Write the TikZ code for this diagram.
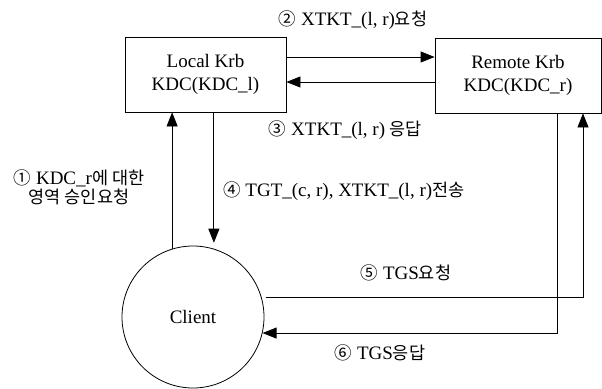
\documentclass[tikz,border=0pt]{standalone}
\usepackage{fontspec}
\setmainfont{Liberation Serif}
\newfontfamily\cjk[Scale=0.92]{Noto Sans CJK KR}
\newcommand{\kr}[1]{{\cjk #1}}
\usetikzlibrary{arrows.meta}
\tikzset{
    Box/.style = {draw,thick,minimum height=75pt,align=center,
                  font=\fontsize{19}{23}\selectfont},
    Msg/.style = {align=center,inner sep=0pt,
                  font=\fontsize{19}{19}\selectfont},
    Flow/.style = {thick,-{Triangle[length=14pt,width=11pt]}}
}
\begin{document}
\begin{tikzpicture}[x=1pt,y=-1pt]
        \useasboundingbox (0,0) rectangle (602,388);
        \node[Box,minimum width=161pt] (L) at (205.5,74.5) {Local Krb\\KDC(KDC\_l)};
        \node[Box,minimum width=166pt] (R) at (518,75.5) {Remote Krb\\KDC(KDC\_r)};
        \node[circle,draw,thick,minimum size=142pt,font=\fontsize{19}{23}\selectfont] (C) at (193,317) {Client};
        \draw[Flow] (L.east |- 0,57) -- (R.west |- 0,57);
        \draw[Flow] (R.west |- 0,82) -- (L.east |- 0,82);
        \draw[Flow] (C.107) -- (C.107 |- L.south);
        \draw[Flow,shorten >=6pt] (C.73 |- L.south) -- (C.73);
        \draw[Flow] ([xshift=4pt]C.16) -| (R.south -| 583,0);
        \draw[Flow] (R.south -| 557,0) |- (C.-13);
        \node[Msg] (m1) at (79,187.5) {\kr{①} KDC\_r\kr{에 대한}\\\kr{영역 승인요청}};
        \node[Msg] (m2) at (353,20) {\kr{②} XTKT\_(l, r)\kr{요청}};
        \node[Msg] (m3) at (345.5,130) {\kr{③} XTKT\_(l, r) \kr{응답}};
        \node[Msg,anchor=west] (m4) at (223,191) {\kr{④} TGT\_(c, r), XTKT\_(l, r)\kr{전송}};
        \node[Msg] (m5) at (406,273) {\kr{⑤} TGS\kr{요청}};
        \node[Msg] (m6) at (380,353) {\kr{⑥} TGS\kr{응답}};
\end{tikzpicture}
\end{document}
